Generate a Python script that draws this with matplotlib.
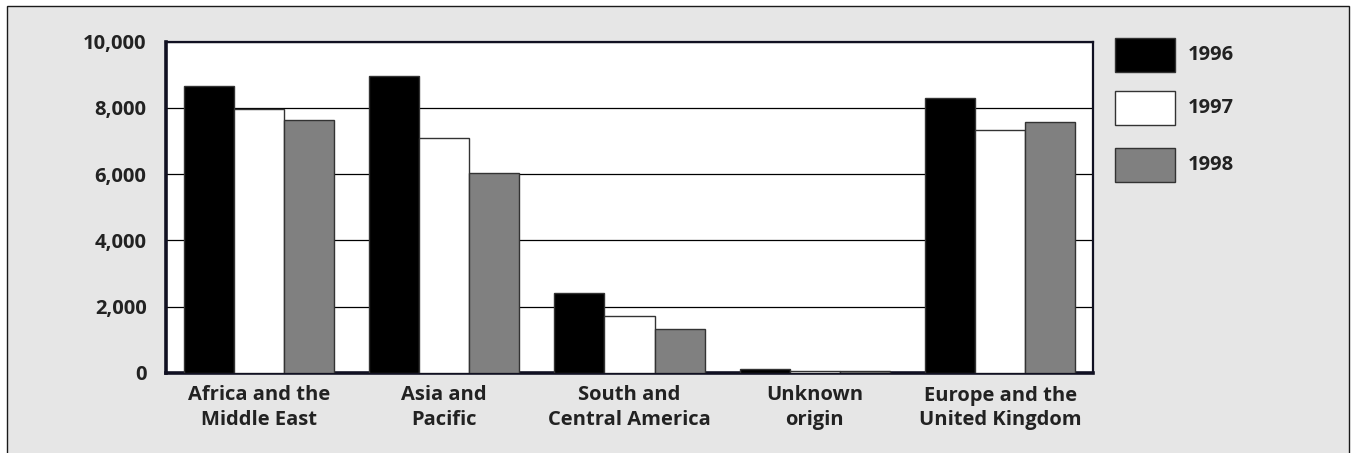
import matplotlib
matplotlib.use("Agg")
import matplotlib.pyplot as plt
import numpy as np
from matplotlib.patches import Rectangle

categories = ["Africa and the\nMiddle East", "Asia and\nPacific", "South and\nCentral America",
              "Unknown\norigin", "Europe and the\nUnited Kingdom"]
years = ["1996", "1997", "1998"]
v1996 = [8650, 8960, 2400, 110, 8290]
v1997 = [7950, 7080, 1720, 50, 7320]
v1998 = [7630, 6020, 1320, 50, 7560]
colors = ["#000000", "#ffffff", "#808080"]
yticks = [0, 2000, 4000, 6000, 8000, 10000]
ytick_labels = ["0", "2,000", "4,000", "6,000", "8,000", "10,000"]

plt.rcParams['font.family'] = ['Open Sans', 'DejaVu Sans']
W, H = 1352, 453
fig = plt.figure(figsize=(W/100, H/100), dpi=100)
fig.patch.set_facecolor("white")
# outer framed panel
fig.patches.append(Rectangle((7/W, -0.01), (1349-7)/W, (H-6)/H + 0.01, transform=fig.transFigure,
                             facecolor="#e6e6e6", edgecolor="#1a1a1a", linewidth=1.0, zorder=-5))

L, R, T, B = 166, 1093, 41.5, 373
ax = fig.add_axes([L/W, 1 - B/H, (R-L)/W, (B-T)/H])
ax.set_zorder(2)
ax.set_facecolor("white")
x = np.arange(len(categories))
bw = 0.27
for i, (vals, c) in enumerate(zip([v1996, v1997, v1998], colors)):
    ax.bar(x + (i-1)*bw, vals, width=bw, color=c, edgecolor="#333333", linewidth=1.0,
           zorder=3, label=years[i])
ax.set_xlim(-0.5, len(categories)-0.5)
ax.set_ylim(0, 10000)
ax.set_yticks(yticks)
ax.set_yticklabels(ytick_labels)
ax.set_xticks(x)
ax.set_xticklabels(categories)
ax.tick_params(axis="both", length=0, labelsize=14.5, colors="#222222")
ax.tick_params(axis="y", pad=14)
ax.tick_params(axis="x", pad=9)
for lbl in ax.get_xticklabels() + ax.get_yticklabels():
    lbl.set_fontweight("bold")
    lbl.set_linespacing(1.3)
ax.yaxis.grid(True, color="#000000", linewidth=0.9, zorder=1)
ax.set_axisbelow(True)
for s in ["top", "right"]:
    ax.spines[s].set_linewidth(1.6)
    ax.spines[s].set_color("#111122")
for s in ["left", "bottom"]:
    ax.spines[s].set_linewidth(2.6)
    ax.spines[s].set_color("#111122")

# legend
leg_y = [55, 108, 165]
for yy, c, yr in zip(leg_y, colors, years):
    fig.patches.append(Rectangle((1115/W, 1 - (yy+17)/H), 60/W, 34/H, transform=fig.transFigure,
                                 facecolor=c, edgecolor="#333333", linewidth=1.0, zorder=3))
    fig.text(1188/W, 1 - yy/H, yr, fontsize=14.5, fontweight="bold", color="#222222",
             va="center", ha="left", zorder=3)

fig.savefig("out.png", dpi=100, facecolor=fig.get_facecolor())
